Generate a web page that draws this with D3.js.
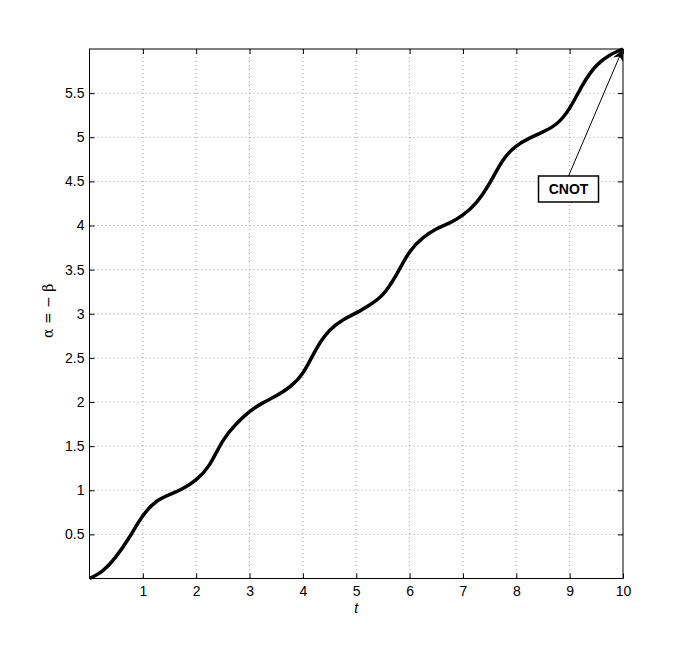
<!DOCTYPE html>
<html>
<head>
<meta charset="utf-8">
<script src="https://cdn.jsdelivr.net/npm/d3@7"></script>
<style>
  body { margin: 0; background: #fff; }
  svg { display: block; }
</style>
</head>
<body>
<div id="chart"></div>
<script>
// values
const tValues = [0, 0.25, 0.5, 0.75, 1, 1.25, 1.5, 1.75, 2, 2.25, 2.5, 2.75, 3, 3.25, 3.5, 3.75,
  4, 4.25, 4.5, 4.75, 5, 5.25, 5.5, 5.75, 6, 6.25, 6.5, 6.75, 7, 7.25, 7.5, 7.75,
  8, 8.25, 8.5, 8.75, 9, 9.25, 9.5, 9.75, 10];
const alphaValues = [0, 0.09, 0.25, 0.47, 0.71, 0.87, 0.95, 1.02, 1.12, 1.29, 1.56, 1.75, 1.89, 1.99, 2.07, 2.17,
  2.33, 2.60, 2.81, 2.93, 3.01, 3.10, 3.22, 3.44, 3.70, 3.86, 3.96, 4.03, 4.12, 4.26, 4.48, 4.74,
  4.90, 4.99, 5.06, 5.15, 5.33, 5.60, 5.81, 5.93, 6.0];
const xTicks = [1, 2, 3, 4, 5, 6, 7, 8, 9, 10];
const yTicks = [0.5, 1, 1.5, 2, 2.5, 3, 3.5, 4, 4.5, 5, 5.5];
const annotation = { label: "CNOT", t: 10, alpha: 6 };

const width = 688, height = 650;
const margin = { top: 49, right: 65, bottom: 71.5, left: 89.5 };
const w = width - margin.left - margin.right,
  h = height - margin.top - margin.bottom;

const svg = d3.select("#chart")
  .append("svg")
  .attr("width", width)
  .attr("height", height)
  .style("font-family", "'Liberation Sans', Arial, sans-serif");

const g = svg.append("g")
  .attr("transform", "translate(" + margin.left + "," + margin.top + ")");

const x = d3.scaleLinear().domain([0, 10]).range([0, w]);
const y = d3.scaleLinear().domain([0, 6]).range([h, 0]);

//grid
g.append("g")
  .selectAll("line")
  .data(xTicks.filter((d) => d < 10))
  .join("line")
  .attr("x1", (d) => x(d)).attr("x2", (d) => x(d))
  .attr("y1", 0).attr("y2", h)
  .attr("stroke", "#8c8c8c")
  .attr("stroke-width", 0.8)
  .attr("stroke-dasharray", "1,3");

g.append("g")
  .selectAll("line")
  .data(yTicks)
  .join("line")
  .attr("y1", (d) => y(d)).attr("y2", (d) => y(d))
  .attr("x1", 0).attr("x2", w)
  .attr("stroke", "#8c8c8c")
  .attr("stroke-width", 0.8)
  .attr("stroke-dasharray", "1,3");

//axes, inward ticks on all four sides
const tickLen = 5;
const xAxis = g.append("g")
  .attr("transform", "translate(0," + h + ")")
  .call(d3.axisBottom(x).tickValues(xTicks).tickSizeInner(-tickLen).tickSizeOuter(0).tickPadding(8));
const yAxis = g.append("g")
  .call(d3.axisLeft(y).tickValues(yTicks).tickFormat(d3.format("")).tickSizeInner(-tickLen).tickSizeOuter(0).tickPadding(5));
const xTop = g.append("g")
  .call(d3.axisTop(x).tickValues(xTicks).tickSizeInner(-tickLen).tickSizeOuter(0).tickFormat(""));
const yRight = g.append("g")
  .attr("transform", "translate(" + w + ",0)")
  .call(d3.axisRight(y).tickValues(yTicks).tickSizeInner(-tickLen).tickSizeOuter(0).tickFormat(""));

[xAxis, yAxis, xTop, yRight].forEach((a) => {
  a.select(".domain").remove();
  a.selectAll(".tick line").attr("stroke", "#000").attr("stroke-width", 1);
  a.selectAll(".tick text")
    .attr("fill", "#000")
    .style("font-size", "14px")
    .style("font-family", "'Liberation Sans', Arial, sans-serif");
});

//box
g.append("rect")
  .attr("width", w)
  .attr("height", h)
  .attr("fill", "none")
  .attr("stroke", "#000")
  .attr("stroke-width", 1);

//the curve
const points = tValues.map((t, i) => ({ t: t, a: alphaValues[i] }));
const line = d3.line()
  .x((d) => x(d.t))
  .y((d) => y(d.a))
  .curve(d3.curveNatural);

g.append("path")
  .datum(points)
  .attr("d", line)
  .attr("fill", "none")
  .attr("stroke", "#000")
  .attr("stroke-width", 3.5)
  .attr("stroke-linejoin", "round");

//axis labels
g.append("text")
  .attr("x", w / 2)
  .attr("y", h + 34)
  .attr("text-anchor", "middle")
  .style("font-size", "14px")
  .style("font-style", "italic")
  .text("t");

g.append("text")
  .attr("transform", "translate(" + (48 - margin.left) + "," + (h / 2 - 3) + ") rotate(-90)")
  .attr("text-anchor", "middle")
  .attr("dy", "0.35em")
  .style("font-size", "14px")
  .style("font-family", "'DejaVu Serif', 'Liberation Serif', serif")
  .text("\u03b1 = \u2212 \u03b2");

//annotation arrow
const defs = svg.append("defs");
defs.append("marker")
  .attr("id", "arrowhead")
  .attr("viewBox", "0 0 10 10")
  .attr("refX", 10)
  .attr("refY", 5)
  .attr("markerWidth", 11)
  .attr("markerHeight", 11)
  .attr("markerUnits", "userSpaceOnUse")
  .attr("orient", "auto")
  .append("path")
  .attr("d", "M0,0 L10,5 L0,10 L3,5 Z")
  .attr("fill", "#000");

const boxX = 538.5 - margin.left, boxY = 176 - margin.top, boxW = 60, boxH = 26;
g.append("line")
  .attr("x1", boxX + 30).attr("y1", boxY)
  .attr("x2", x(annotation.t) - 0.5).attr("y2", y(annotation.alpha) + 0.5)
  .attr("stroke", "#000")
  .attr("stroke-width", 1)
  .attr("marker-end", "url(#arrowhead)");

g.append("rect")
  .attr("x", boxX).attr("y", boxY)
  .attr("width", boxW).attr("height", boxH)
  .attr("fill", "#fff")
  .attr("stroke", "#000")
  .attr("stroke-width", 1.5);

g.append("text")
  .attr("x", boxX + boxW / 2)
  .attr("y", boxY + boxH / 2)
  .attr("dy", "0.36em")
  .attr("text-anchor", "middle")
  .style("font-size", "14px")
  .style("font-weight", "bold")
  .text(annotation.label);
</script>
</body>
</html>
